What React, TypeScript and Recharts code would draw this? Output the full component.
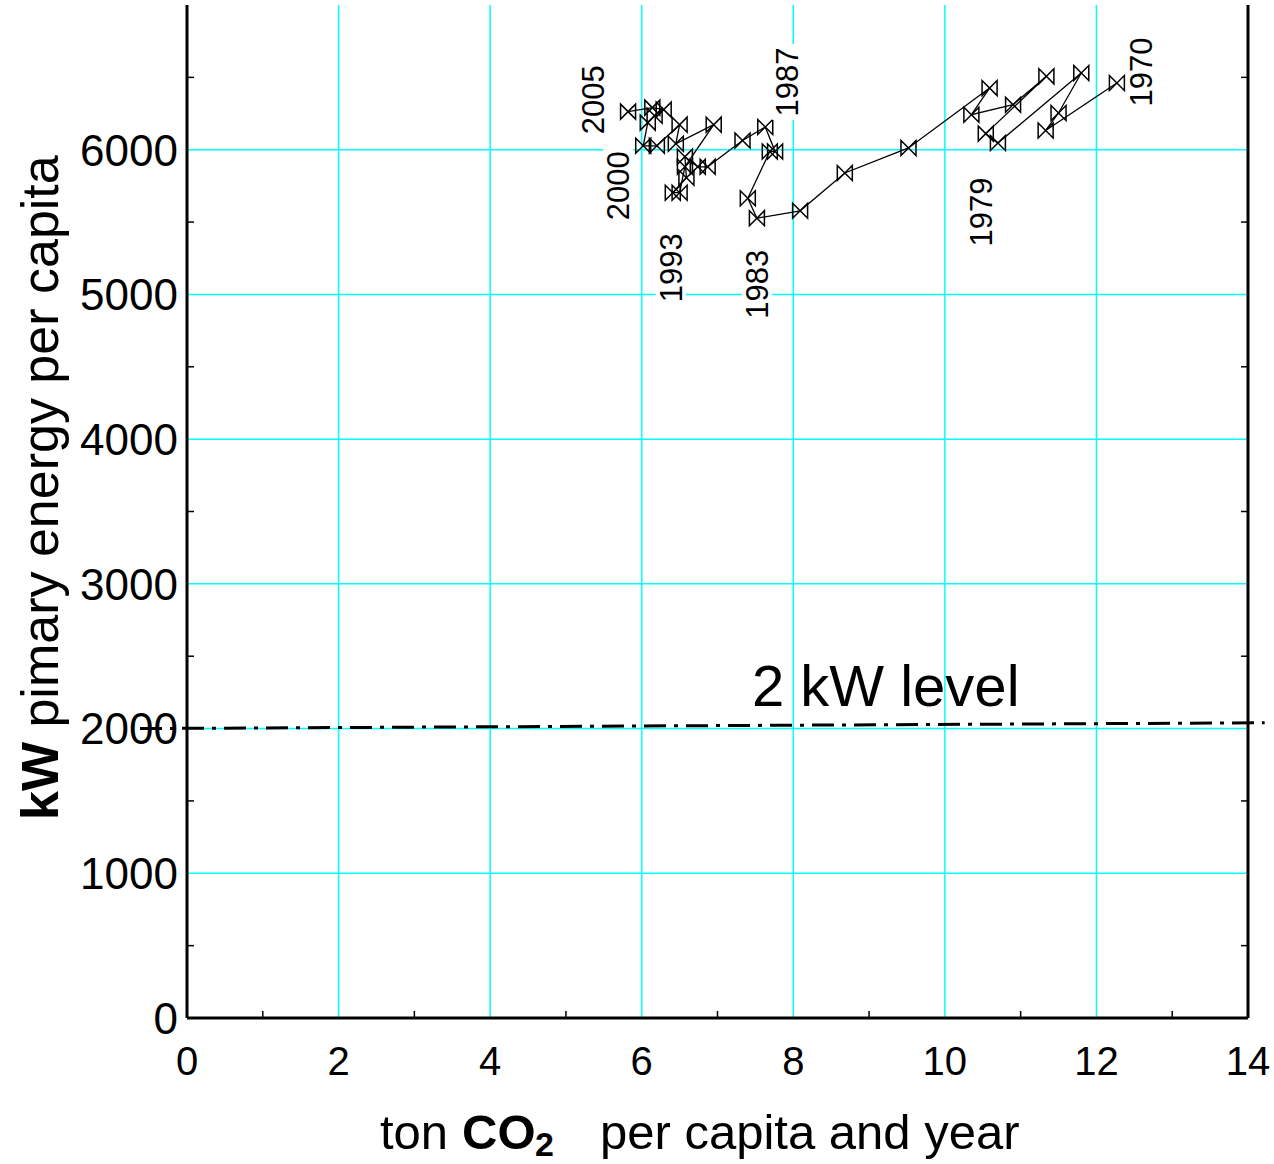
import React from "react";
import { ScatterChart, Scatter, XAxis, YAxis, CartesianGrid, ReferenceLine } from "recharts";

// one point per year, ton CO2 per capita vs. W primary energy per capita
const years = [
  1970, 1971, 1972, 1973, 1974, 1975, 1976, 1977, 1978, 1979,
  1980, 1981, 1982, 1983, 1984, 1985, 1986, 1987, 1988, 1989,
  1990, 1991, 1992, 1993, 1994, 1995, 1996, 1997, 1998, 1999,
  2000, 2001, 2002, 2003, 2004, 2005,
];
const co2PerCapita = [
  12.27, 11.33, 11.5, 11.8, 10.7, 10.54, 11.34, 10.9, 10.35, 10.59,
  9.52, 8.68, 8.09, 7.52, 7.4, 7.69, 7.76, 7.63, 7.33, 6.87,
  6.74, 6.57, 6.59, 6.41, 6.5, 6.57, 6.95, 6.45, 6.5, 6.2,
  6.02, 6.08, 6.17, 6.29, 6.14, 5.82,
];
const energyPerCapita = [
  6461, 6133, 6254, 6530, 6046, 6111, 6507, 6311, 6242, 6426,
  6012, 5839, 5578, 5527, 5665, 5988, 5988, 6157, 6064, 5882,
  5882, 5952, 5806, 5703, 5703, 5882, 6173, 6041, 6173, 6027,
  6027, 6187, 6235, 6277, 6291, 6263,
];
const labeledYears = [1970, 1979, 1983, 1987, 1993, 2000, 2005];

// 2 kW line (slightly tilted in the original)
const level2kW = [
  { x: -0.62, y: 2000 },
  { x: 14.22, y: 2040 },
];

const xDomain = [0, 14];
const yDomain = [0, 7000];
const xTicks = [0, 1, 2, 3, 4, 5, 6, 7, 8, 9, 10, 11, 12, 13, 14];
const yTicks = [0, 500, 1000, 1500, 2000, 2500, 3000, 3500, 4000, 4500, 5000, 5500, 6000, 6500, 7000];
const gridX = [0, 2, 4, 6, 8, 10, 12, 14];
const gridY = [1000, 2000, 3000, 4000, 5000, 6000];

const points = years.map((year, i) => ({ year, x: co2PerCapita[i], y: energyPerCapita[i] }));

// pixel offsets of the year labels from their point
const labelOffset: Record<number, [number, number]> = {
  1970: [24, -11],
  1979: [-9, 124],
  1983: [0, 66],
  1987: [22, -45],
  1993: [-2, 75],
  2000: [-25, 40],
  2005: [-35, -12],
};

const FONT = "'Liberation Sans', Arial, Helvetica, sans-serif";
const W = 1274;
const H = 1164;
const margin = { top: 5, right: 26, bottom: 86, left: 87 };
const PLOT_RIGHT = W - margin.right;

function BowTie(props: any) {
  const { cx, cy, payload } = props;
  if (cx == null || cy == null) return null;
  const off = labeledYears.includes(payload.year) ? labelOffset[payload.year] : null;
  return (
    <g>
      <path
        d={`M${cx - 7.5},${cy - 7.5} L${cx + 7.5},${cy + 7.5} L${cx + 7.5},${cy - 7.5} L${cx - 7.5},${cy + 7.5} Z`}
        fill="none"
        stroke="#000"
        strokeWidth={1.5}
      />
      {off && (
        <g transform={`translate(${cx + off[0]},${cy + off[1]}) rotate(-90)`}>
          <rect x={-38} y={-15} width={76} height={30} fill="#fff" />
          <text textAnchor="middle" dy="0.36em" fontSize={31} fontFamily={FONT} fill="#000">
            {payload.year}
          </text>
        </g>
      )}
    </g>
  );
}

function XTick(props: any) {
  const { x, y, payload } = props;
  const v = payload.value;
  if (v % 2 === 1) {
    return <line x1={x} y1={y} x2={x} y2={y - 7} stroke="#000" strokeWidth={1.5} />;
  }
  return (
    <text x={x} y={y + 57} textAnchor="middle" fontSize={40} fontFamily={FONT} fill="#000">
      {v}
    </text>
  );
}

function YTick(props: any) {
  const { x, y, payload } = props;
  const v = payload.value;
  if (v % 1000 !== 0) {
    return (
      <g>
        <line x1={x} y1={y} x2={x + 7} y2={y} stroke="#000" strokeWidth={1.5} />
        <line x1={PLOT_RIGHT - 7} y1={y} x2={PLOT_RIGHT} y2={y} stroke="#000" strokeWidth={1.5} />
      </g>
    );
  }
  if (v > 6000) return null;
  return (
    <text x={x - 9} y={y} dy="0.36em" textAnchor="end" fontSize={44} fontFamily={FONT} fill="#000">
      {v}
    </text>
  );
}

function XTitle() {
  return (
    <text y={1149} fontSize={49} fontFamily={FONT} fill="#000">
      <tspan x={380}>ton</tspan>
      <tspan x={462} fontWeight="bold">CO</tspan>
      <tspan x={535} dy={7} fontSize={34} fontWeight="bold">2</tspan>
      <tspan x={600} dy={-7}>per capita and year</tspan>
    </text>
  );
}

function YTitle() {
  return (
    <text transform="translate(58,820) rotate(-90)" fontSize={52} fontFamily={FONT} fill="#000">
      <tspan fontWeight="bold">kW</tspan>
      <tspan> pimary energy per capita</tspan>
    </text>
  );
}

function LevelLabel() {
  return (
    <text x={752} y={706} fontSize={58} fontFamily={FONT} fill="#000">
      2 kW level
    </text>
  );
}

// grid only at the labelled values, mapped linearly over the plot box
const gridXGen = (p: any) =>
  gridX.map((v) => p.offset.left + ((v - xDomain[0]) / (xDomain[1] - xDomain[0])) * p.offset.width);
const gridYGen = (p: any) =>
  gridY.map((v) => p.offset.top + p.offset.height - ((v - yDomain[0]) / (yDomain[1] - yDomain[0])) * p.offset.height);

export default function App() {
  return (
    <div style={{ position: "absolute", left: 0, top: 0, background: "#fff" }}>
      <ScatterChart width={W} height={H} margin={margin}>
        <CartesianGrid
          stroke="#00ffff"
          strokeWidth={1.5}
          verticalCoordinatesGenerator={gridXGen}
          horizontalCoordinatesGenerator={gridYGen}
        />
        <XAxis
          type="number"
          dataKey="x"
          domain={xDomain}
          ticks={xTicks}
          interval={0}
          tickLine={false}
          tickSize={0}
          tickMargin={0}
          axisLine={{ stroke: "#000", strokeWidth: 3 }}
          tick={<XTick />}
          height={60}
          label={<XTitle />}
        />
        <YAxis
          type="number"
          dataKey="y"
          domain={yDomain}
          ticks={yTicks}
          interval={0}
          tickLine={false}
          tickSize={0}
          tickMargin={0}
          axisLine={{ stroke: "#000", strokeWidth: 3 }}
          tick={<YTick />}
          width={100}
          label={<YTitle />}
        />
        <ReferenceLine x={14} stroke="#000" strokeWidth={3} />
        <ReferenceLine
          segment={level2kW}
          ifOverflow="visible"
          stroke="#000"
          strokeWidth={3}
          strokeDasharray="22 8 4 8"
          label={<LevelLabel />}
        />
        <Scatter
          data={points}
          line={{ stroke: "#000", strokeWidth: 1.3 }}
          lineType="joint"
          shape={(p: any) => <BowTie {...p} />}
          isAnimationActive={false}
        />
      </ScatterChart>
    </div>
  );
}
